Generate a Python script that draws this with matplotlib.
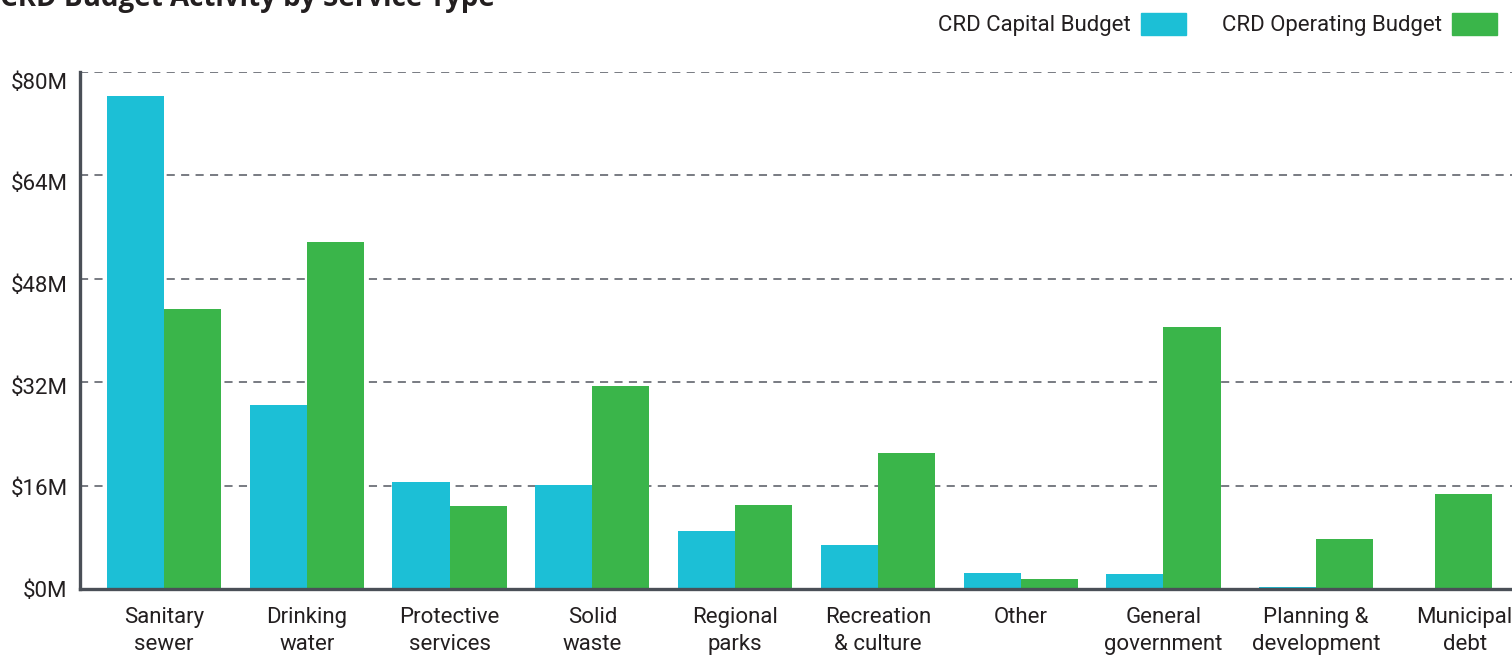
import matplotlib
matplotlib.use("Agg")
import matplotlib.pyplot as plt
from matplotlib.patches import Rectangle
from matplotlib.transforms import ScaledTranslation

categories = ["Sanitary\nsewer", "Drinking\nwater", "Protective\nservices", "Solid\nwaste",
              "Regional\nparks", "Recreation\n& culture", "Other", "General\ngovernment",
              "Planning &\ndevelopment", "Municipal\ndebt"]
capital = [76.3, 28.5, 16.6, 16.1, 9.0, 6.8, 2.5, 2.3, 0.3, 0.0]
operating = [43.3, 53.7, 12.8, 31.4, 13.0, 21.0, 1.55, 40.5, 7.7, 14.7]
yticks = [0, 16, 32, 48, 64, 80]
ytick_labels = ["$0M", "$16M", "$32M", "$48M", "$64M", "$80M"]
series_names = ["CRD Capital Budget", "CRD Operating Budget"]
title = "CRD Budget Activity by Service Type"

# layout (group centres and label centres, in group units)
group_pos = [0, 1, 2, 3, 4, 5, 6, 7, 8.07, 8.9]
label_pos = [0, 1, 2, 3, 4, 5, 6, 7, 8.07, 9.11]

c_cap = "#1cbfd6"
c_op = "#3ab54a"
axis_col = "#4a4f57"
text_col = "#231f20"

plt.rcParams['font.family'] = ['Roboto', 'DejaVu Sans']

W, H = 1512, 656
fig = plt.figure(figsize=(W / 100, H / 100), dpi=100)
ax = fig.add_axes([80 / W, (H - 589) / H, (1533 - 80) / W, (589 - 72) / H])

bw = 0.40
ax.bar([p - bw / 2 for p in group_pos], capital, width=bw, color=c_cap, zorder=3)
ax.bar([p + bw / 2 for p in group_pos], operating, width=bw, color=c_op, zorder=3)

ax.set_xlim(-0.588, 9.588)
ax.set_ylim(0, 80)
ax.set_yticks(yticks)
ax.set_yticklabels(ytick_labels, fontsize=16, color=text_col)
ax.set_xticks(label_pos)
ax.set_xticklabels(categories, fontsize=16, color=text_col, linespacing=1.4)
ax.tick_params(axis='both', length=0)
ax.tick_params(axis='y', pad=9)
ax.tick_params(axis='x', pad=13)

# top labels sit a little below their gridlines in the reference
for v, lab in zip(yticks, ax.get_yticklabels()):
    off = -0.11 * v / 100.0
    lab.set_transform(lab.get_transform() + ScaledTranslation(0, off, fig.dpi_scale_trans))

for t in yticks[1:]:
    ax.axhline(t, color="#6d7178", lw=1.3, ls=(0, (4.5, 3.5)), zorder=1)

for s in ["top", "right"]:
    ax.spines[s].set_visible(False)
for s in ["left", "bottom"]:
    ax.spines[s].set_color(axis_col)
    ax.spines[s].set_linewidth(2.4)
    ax.spines[s].set_zorder(4)

fig.text(0 / W, 1 - 6 / H, title, fontsize=20, fontweight="bold", color=text_col,
         ha="left", va="baseline", family=["Open Sans", "DejaVu Sans"])

# legend
leg = [(series_names[0], c_cap, 1141), (series_names[1], c_op, 1452)]
for name, col, px in leg:
    fig.text((px - 10) / W, 1 - 25 / H, name, fontsize=16, color=text_col,
             ha="right", va="center")
    fig.patches.append(Rectangle((px / W, 1 - 35 / H), 45 / W, 22 / H,
                                 transform=fig.transFigure, color=col))

fig.savefig("out.png", dpi=100)
